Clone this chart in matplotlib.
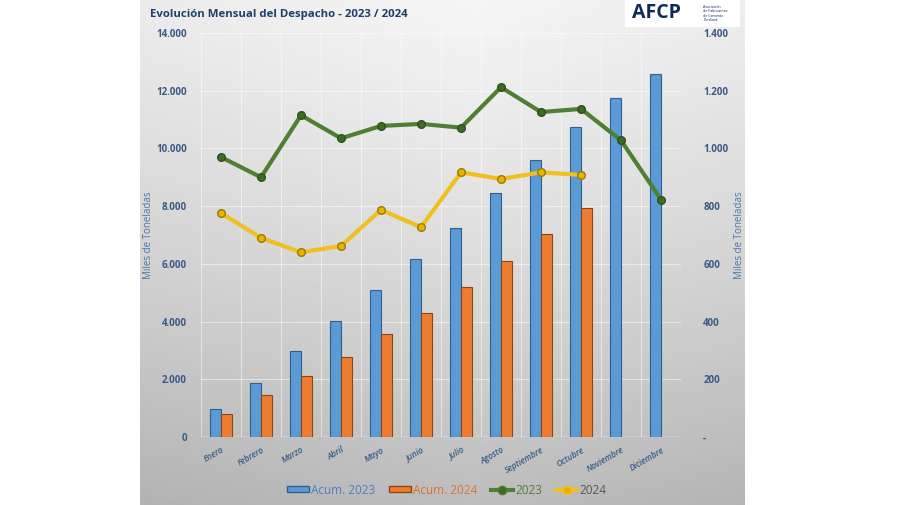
import numpy as np
import matplotlib
matplotlib.use("Agg")
import matplotlib.pyplot as plt
from matplotlib.lines import Line2D
from matplotlib.patches import Patch

# datos (miles de toneladas)
meses = ["Enero", "Febrero", "Marzo", "Abril", "Mayo", "Junio", "Julio",
         "Agosto", "Septiembre", "Octubre", "Noviembre", "Diciembre"]
acum_2023 = [970, 1870, 2980, 4020, 5090, 6170, 7240, 8450, 9600, 10740, 11750, 12580]
acum_2024 = [780, 1460, 2100, 2770, 3560, 4290, 5200, 6100, 7020, 7930]
mes_2023 = [970, 900, 1115, 1035, 1078, 1085, 1072, 1212, 1126, 1137, 1028, 823]
mes_2024 = [776, 690, 640, 662, 787, 727, 917, 894, 917, 908]

left_ticks = [0, 2000, 4000, 6000, 8000, 10000, 12000, 14000]
left_labels = ["0", "2.000", "4.000", "6.000", "8.000", "10.000", "12.000", "14.000"]
right_ticks = [0, 200, 400, 600, 800, 1000, 1200, 1400]
right_labels = ["-", "200", "400", "600", "800", "1.000", "1.200", "1.400"]

c_azul = "#5B9BD5"
c_naranja = "#ED7D31"
c_verde = "#4E7F32"
c_amarillo = "#F0C020"
c_texto = "#3A5A85"

plt.rcParams["font.family"] = ["Open Sans", "DejaVu Sans"]

fig = plt.figure(figsize=(9, 5.05), dpi=100)

# fondo gris degradado del panel
bg = fig.add_axes([140 / 900, 0, 605 / 900, 1])
yy, xx = np.mgrid[0:1:200j, 0:1:200j]
grad = 0.96 - 0.22 * yy ** 1.2 - 0.07 * np.abs(xx - 0.55)
bg.imshow(grad, cmap="gray", vmin=0, vmax=1, aspect="auto", extent=[0, 1, 0, 1], origin="upper")
bg.axis("off")

ax = fig.add_axes([201 / 900, 1 - 437 / 505, 480 / 900, 404 / 505])
ax.patch.set_alpha(0)
x = np.arange(len(meses))
w = 0.28

ax.bar(x - w / 2, acum_2023, width=w, color=c_azul, edgecolor="#2F5F8F", linewidth=0.8, zorder=3)
ax.bar(x[:len(acum_2024)] + w / 2, acum_2024, width=w, color=c_naranja, edgecolor="#8F4512",
       linewidth=0.8, zorder=3)

ax.set_xlim(-0.5, len(meses) - 0.5)
ax.set_ylim(0, 14000)
ax.set_yticks(left_ticks)
ax.set_yticklabels(left_labels)
ax.set_xticks(x)
ax.set_xticklabels(meses, rotation=30, ha="right", rotation_mode="anchor", fontsize=6,
                   fontstyle="italic", color=c_texto)
ax.set_xticks(np.arange(len(meses) + 1) - 0.5, minor=True)
ax.grid(True, which="minor", axis="x", color="white", alpha=0.5, linewidth=0.8, zorder=0)
ax.grid(True, which="major", axis="y", color="white", alpha=0.5, linewidth=0.8, zorder=0)
ax.tick_params(axis="x", which="both", length=0, pad=6)
ax.tick_params(axis="y", length=0, labelsize=7, labelcolor=c_texto, pad=10)
for lbl in ax.get_yticklabels():
    lbl.set_fontweight("bold")
for lbl in ax.get_xticklabels():
    lbl.set_fontweight("semibold")
for s in ax.spines.values():
    s.set_visible(False)
ax.axhline(0, color="white", linewidth=1, alpha=0.8, zorder=1)
ax.set_ylabel("Miles de Toneladas", fontsize=7, color="#4A76A8", labelpad=2)

ax2 = ax.twinx()
ax2.plot(x, mes_2023, color=c_verde, linewidth=3, marker="o", markersize=5.5,
         markerfacecolor="#3D6B26", markeredgecolor="#2E5219", zorder=4)
ax2.plot(x[:len(mes_2024)], mes_2024, color=c_amarillo, linewidth=3, marker="o", markersize=5.5,
         markerfacecolor="#E8B400", markeredgecolor="#9A7A00", zorder=4)
ax2.set_ylim(0, 1400)
ax2.set_yticks(right_ticks)
ax2.set_yticklabels(right_labels)
ax2.tick_params(axis="y", length=0, labelsize=7, labelcolor=c_texto, pad=16)
for lbl in ax2.get_yticklabels():
    lbl.set_fontweight("bold")
for s in ax2.spines.values():
    s.set_visible(False)
ax2.set_ylabel("Miles de Toneladas", fontsize=7, color="#4A76A8", labelpad=4)

# titulo
fig.text(150 / 900, 1 - 15 / 505, "Evolución Mensual del Despacho - 2023 / 2024", fontsize=8.2,
         fontweight="bold", color="#1F3F6A", va="center", ha="left")

# logo AFCP
logo = fig.add_axes([625 / 900, 1 - 27 / 505, 115 / 900, 27 / 505])
logo.set_facecolor("white")
logo.set_xticks([])
logo.set_yticks([])
for s in logo.spines.values():
    s.set_visible(False)
logo.text(0.06, 0.5, "AFCP", fontsize=14, fontweight="bold", color="#0F2A5A", va="center", ha="left",
          transform=logo.transAxes)
logo.text(0.68, 0.5, "Asociación\nde Fabricantes\nde Cemento\nPortland", fontsize=2.6, color="#0F2A5A",
          va="center", ha="left", linespacing=1.1, transform=logo.transAxes)

# leyenda
handles = [
    Patch(facecolor=c_azul, edgecolor="#2F5F8F"),
    Patch(facecolor=c_naranja, edgecolor="#8F4512"),
    Line2D([0], [0], color=c_verde, linewidth=3, marker="o", markersize=6, markerfacecolor="#3D6B26"),
    Line2D([0], [0], color=c_amarillo, linewidth=3, marker="o", markersize=6, markerfacecolor="#E8B400"),
]
leg = fig.legend(handles, ["Acum. 2023", "Acum. 2024", "2023", "2024"], loc="center",
                 bbox_to_anchor=(447 / 900, 1 - 490 / 505), ncol=4, frameon=False, fontsize=8.5,
                 handlelength=1.8, handleheight=0.4, handletextpad=0.2, columnspacing=1.2)
for t, c in zip(leg.get_texts(), ["#4A7EBB", "#D9742A", "#4E7F32", "#555555"]):
    t.set_color(c)

fig.savefig("out.png", dpi=100)
